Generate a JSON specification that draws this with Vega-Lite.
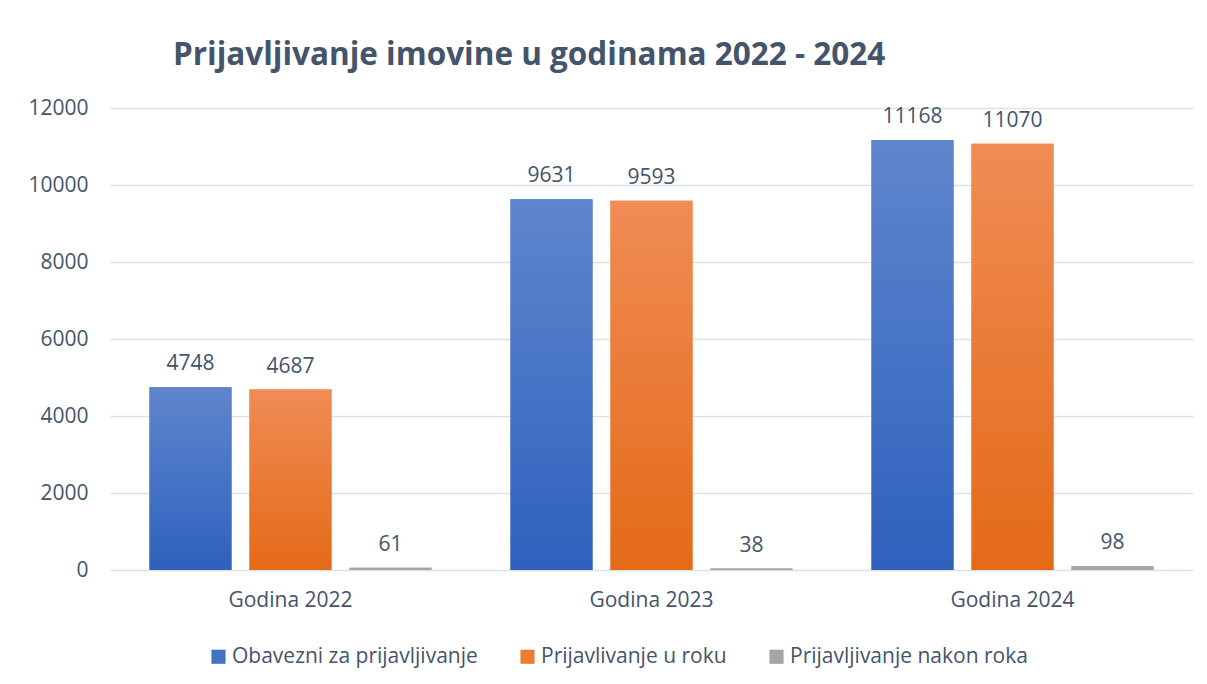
{
  "$schema": "https://vega.github.io/schema/vega-lite/v6.json",
  "autosize": {"type": "none"},
  "width": 1083,
  "height": 462,
  "padding": {"left": 110, "top": 108, "right": 14, "bottom": 114},
  "background": "white",
  "title": {
    "text": "Prijavljivanje imovine u godinama 2022 - 2024",
    "anchor": "start",
    "dx": 145,
    "offset": 26,
    "font": "Open Sans",
    "fontSize": 31.5,
    "fontWeight": "bold",
    "color": "#44546A"
  },
  "data": {
    "values": [
      {"year": "Godina 2022", "series": "Obavezni za prijavljivanje", "value": 4748},
      {"year": "Godina 2022", "series": "Prijavlivanje u roku", "value": 4687},
      {"year": "Godina 2022", "series": "Prijavljivanje nakon roka", "value": 61},
      {"year": "Godina 2023", "series": "Obavezni za prijavljivanje", "value": 9631},
      {"year": "Godina 2023", "series": "Prijavlivanje u roku", "value": 9593},
      {"year": "Godina 2023", "series": "Prijavljivanje nakon roka", "value": 38},
      {"year": "Godina 2024", "series": "Obavezni za prijavljivanje", "value": 11168},
      {"year": "Godina 2024", "series": "Prijavlivanje u roku", "value": 11070},
      {"year": "Godina 2024", "series": "Prijavljivanje nakon roka", "value": 98}
    ]
  },
  "encoding": {
    "x": {
      "field": "year", "type": "nominal",
      "scale": {"paddingInner": 0.169, "paddingOuter": 0.0845},
      "axis": {"title": null, "labelAngle": 0, "domain": false, "ticks": false, "labelPadding": 19,
               "labelFont": "Open Sans", "labelFontSize": 21, "labelColor": "#44546A"}
    },
    "xOffset": {
      "field": "series", "type": "nominal",
      "scale": {"domain": ["Obavezni za prijavljivanje", "Prijavlivanje u roku", "Prijavljivanje nakon roka"], "paddingInner": 0.18, "paddingOuter": 0.09}
    },
    "y": {
      "field": "value", "type": "quantitative",
      "scale": {"domain": [0, 12000], "nice": false},
      "axis": {"title": null, "values": [0, 2000, 4000, 6000, 8000, 10000, 12000], "format": "d",
               "domain": false, "ticks": false, "labelPadding": 22,
               "labelFont": "Open Sans", "labelFontSize": 21, "labelColor": "#44546A",
               "gridColor": "#DDE1E6", "gridWidth": 1.6}
    }
  },
  "layer": [
    {
      "mark": {"type": "bar"},
      "encoding": {
        "color": {
          "field": "series", "type": "nominal",
          "scale": {"domain": ["Obavezni za prijavljivanje", "Prijavlivanje u roku", "Prijavljivanje nakon roka"],
                    "range": ["#4472C4", "#ED7D31", "#A5A5A5"]},
          "legend": {
            "title": null, "orient": "none", "direction": "horizontal",
            "legendX": 98, "legendY": 538,
            "symbolType": "square", "symbolSize": 200, "symbolStrokeWidth": 0,
            "labelFont": "Open Sans", "labelFontSize": 21, "labelColor": "#44546A",
            "labelOffset": 3, "columnPadding": 39, "labelLimit": 400
          }
        }
      }
    },
    {
      "transform": [{"filter": "datum.series === 'Obavezni za prijavljivanje'"}],
      "mark": {"type": "bar", "color": {"gradient": "linear", "x1": 0, "y1": 1, "x2": 0, "y2": 0,
        "stops": [{"offset": 0, "color": "#2E61BD"}, {"offset": 1, "color": "#5F86CD"}]}},
      "encoding": {}
    },
    {
      "transform": [{"filter": "datum.series === 'Prijavlivanje u roku'"}],
      "mark": {"type": "bar", "color": {"gradient": "linear", "x1": 0, "y1": 1, "x2": 0, "y2": 0,
        "stops": [{"offset": 0, "color": "#E46A17"}, {"offset": 1, "color": "#F08C55"}]}},
      "encoding": {}
    },
    {
      "transform": [{"filter": "datum.series === 'Prijavljivanje nakon roka'"}],
      "mark": {"type": "bar", "color": "#A6A6A6"},
      "encoding": {}
    },
    {
      "mark": {"type": "text", "baseline": "alphabetic", "dy": -17, "font": "Open Sans", "fontSize": 21, "color": "#44546A"},
      "encoding": {"text": {"field": "value", "type": "quantitative", "format": "d"}}
    }
  ],
  "config": {
    "view": {"stroke": null}
  }
}
